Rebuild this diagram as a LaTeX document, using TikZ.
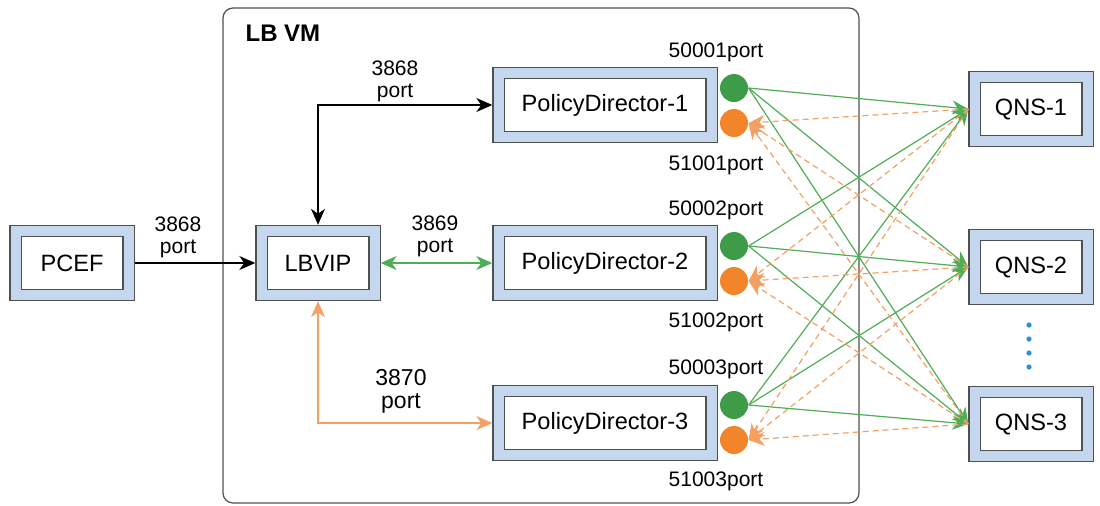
\documentclass[tikz,border=0pt]{standalone}
\usepackage{fontspec}
\setmainfont{Liberation Sans}
\usetikzlibrary{arrows.meta}

\definecolor{boxblue}{HTML}{C5D7EF}
\definecolor{boxline}{HTML}{505050}
\definecolor{portgreen}{HTML}{3E9B47}
\definecolor{linkgreen}{HTML}{4FAD56}
\definecolor{portorange}{HTML}{F2852A}
\definecolor{linkorange}{HTML}{F4A062}
\definecolor{dotblue}{HTML}{2A8FD8}

\begin{document}
\begin{tikzpicture}[x=0.5pt,y=-0.5pt,line width=0.6pt,
  >={Stealth[length=8pt,width=7pt,inset=2.5pt]},
  box node/.style={draw=boxline,line width=0.6pt,double=boxblue,double distance=5pt,
    fill=white,minimum width=56.5pt,minimum height=32pt,outer sep=3.1pt,
    font=\fontsize{11.8}{13}\selectfont},
  wide node/.style={box node,minimum width=106.5pt},
  port node/.style={circle,inner sep=0pt,minimum size=14pt},
  port label/.style={inner sep=0pt,font=\fontsize{10.5}{12}\selectfont},
  link label/.style={align=center,inner sep=0pt,font=\fontsize{10.5}{11}\selectfont}]

 \useasboundingbox (0,0) rectangle (1100,505);

 % LB VM frame
 \draw[boxline,line width=0.6pt,rounded corners=5pt] (223,8) rectangle (859,503);
 \node[anchor=west,inner sep=0pt,font=\fontsize{12}{14}\selectfont\bfseries] (lbvm) at (245,33) {LB VM};

 \node[box node] (pcef) at (72,263) {PCEF};
 \node[box node] (lbvip) at (318,263) {LBVIP};
 \node[wide node] (pd1) at (605,105) {PolicyDirector-1};
 \node[wide node] (pd2) at (605,263) {PolicyDirector-2};
 \node[wide node] (pd3) at (605,423) {PolicyDirector-3};
 \node[box node] (qns1) at (1031,109) {QNS-1};
 \node[box node] (qns2) at (1031,267) {QNS-2};
 \node[box node] (qns3) at (1031,424) {QNS-3};

 % ports
 \node[port node,fill=portgreen] (g1) at (734,88) {};
 \node[port node,fill=portorange] (o1) at (734,123) {};
 \node[port node,fill=portgreen] (g2) at (734,246) {};
 \node[port node,fill=portorange] (o2) at (734,281) {};
 \node[port node,fill=portgreen] (g3) at (734,405) {};
 \node[port node,fill=portorange] (o3) at (734,440) {};

 \node[port label] (g1l) at (716,52) {50001port};
 \node[port label] (o1l) at (716,165) {51001port};
 \node[port label] (g2l) at (716,210) {50002port};
 \node[port label] (o2l) at (716,322) {51002port};
 \node[port label] (g3l) at (716,369) {50003port};
 \node[port label] (o3l) at (716,481) {51003port};

 % port numbers
 \node[link label] (l1) at (178,237) {3868\\port};
 \node[link label] (l2) at (395,81) {3868\\port};
 \node[link label] (l3) at (435,236) {3869\\port};
 \node[link label,font=\fontsize{11.5}{11.5}\selectfont] (l4) at (401,391) {3870\\port};

 % more QNS
 \fill[dotblue] (1029,325) circle (1.3pt) (1029,339) circle (1.3pt)
   (1029,353) circle (1.3pt) (1029,367) circle (1.3pt);

 \draw[->] (pcef) -- (lbvip);
 \draw[<->] (pd1.west) -| (lbvip.north);
 \draw[<->,linkgreen] (lbvip) -- (pd2);
 \draw[<->,linkorange] (lbvip.south) |- (pd3.west);

 \path[->,linkgreen]
    (g1.east) edge (qns1.west)
    (g1.east) edge (qns2.west)
    (g1.east) edge (qns3.west)
    (g2.east) edge (qns1.west)
    (g2.east) edge (qns2.west)
    (g2.east) edge (qns3.west)
    (g3.east) edge (qns1.west)
    (g3.east) edge (qns2.west)
    (g3.east) edge (qns3.west);

 \path[->,linkorange,dash pattern=on 3pt off 2pt]
    (qns1.west) edge (o1.east)
    (qns1.west) edge (o2.east)
    (qns1.west) edge (o3.east)
    (qns2.west) edge (o1.east)
    (qns2.west) edge (o2.east)
    (qns2.west) edge (o3.east)
    (qns3.west) edge (o1.east)
    (qns3.west) edge (o2.east)
    (qns3.west) edge (o3.east);

\end{tikzpicture}
\end{document}
